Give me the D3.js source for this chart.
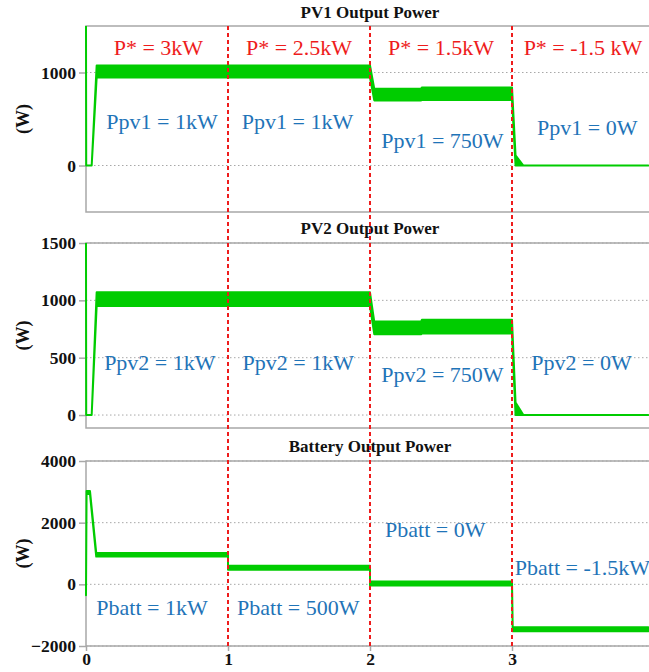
<!DOCTYPE html>
<html>
<head>
<meta charset="utf-8">
<script src="https://cdn.jsdelivr.net/npm/d3@7/dist/d3.min.js"></script>
<style>
  body { margin: 0; background: #fff; }
  svg text { font-family: "Liberation Serif", "Times New Roman", serif; }
</style>
</head>
<body>
<div id="chart"></div>
<script>
// thời gian chuyển bậc (s) và nhãn trục x
const xTicks = [0, 1, 2, 3];
const stepTimes = [1, 2, 3];

// PV1: dải dao động (biên trên / biên dưới), W
const pv1Time  = [0, 0.0015, 0.04, 0.075, 2.0, 2.03, 2.36, 2.365, 3.0, 3.025, 3.045, 3.08, 3.96];
const pv1Upper = [1500, 0, 0, 1075, 1075, 825, 825, 840, 840, 110, 70, 0, 0];
const pv1Lower = [1500, 0, 0, 945, 945, 700, 700, 705, 705, 0, 0, 0, 0];

// PV2
const pv2Time  = [0, 0.0015, 0.04, 0.075, 2.0, 2.03, 2.36, 2.365, 3.0, 3.025, 3.045, 3.08, 3.96];
const pv2Upper = [1500, 0, 0, 1070, 1070, 815, 815, 830, 830, 110, 70, 0, 0];
const pv2Lower = [1500, 0, 0, 950, 950, 705, 705, 710, 710, 0, 0, 0, 0];

// Battery
const battTime  = [0, 0.004, 0.016, 0.028, 0.072, 1.0, 1.0, 2.0, 2.0, 3.0, 3.005, 3.96];
const battUpper = [-350, 3030, 3030, 3030, 1020, 1020, 600, 600, 90, 90, -1390, -1390];
const battLower = [-350, 2930, 2930, 2930, 900, 900, 475, 475, -40, -40, -1520, -1520];

// nhãn P* (đỏ) và nhãn công suất (xanh): [t, W]
const setpointLabels = ["P* = 3kW", "P* = 2.5kW", "P* = 1.5kW", "P* = -1.5 kW"];
const setpointT = [0.51, 1.5, 2.5, 3.5];
const setpointW = [1185, 1185, 1185, 1185];

const pv1Labels = ["Ppv1 = 1kW", "Ppv1 = 1kW", "Ppv1 = 750W", "Ppv1 = 0W"];
const pv1LabelT = [0.535, 1.49, 2.51, 3.53];
const pv1LabelW = [390, 390, 184, 325];

const pv2Labels = ["Ppv2 = 1kW", "Ppv2 = 1kW", "Ppv2 = 750W", "Ppv2 = 0W"];
const pv2LabelT = [0.52, 1.495, 2.51, 3.49];
const pv2LabelW = [393, 393, 290, 393];

const battLabels = ["Pbatt = 1kW", "Pbatt = 500W", "Pbatt = 0W", "Pbatt =  -1.5kW"];
const battLabelT = [0.465, 1.495, 2.46, 3.02];
const battLabelW = [-990, -990, 1535, 300];

const titles = ["PV1 Output Power", "PV2 Output Power", "Battery Output Power"];
const yTicksPV1 = [0, 1000];
const yTicksPV2 = [0, 500, 1000, 1500];
const yTicksBatt = [-2000, 0, 2000, 4000];

const W = 649, H = 672;
const serif = '"Liberation Serif", "Times New Roman", serif';
const svg = d3.select("#chart").append("svg")
    .attr("width", W)
    .attr("height", H);

const green = "#00cc00";
const grid = "#a8a8a8";
const red = "#ee1c1c";
const blue = "#1f74b8";

const x = d3.scaleLinear().domain([0, 4]).range([86, 654]);

const panels = [
    { title: titles[0], y: d3.scaleLinear().domain([-500, 1500]).range([212, 26]), ticks: yTicksPV1,
      t: pv1Time, up: pv1Upper, lo: pv1Lower, lab: pv1Labels, lt: pv1LabelT, lw: pv1LabelW, titleY: 18 },
    { title: titles[1], y: d3.scaleLinear().domain([-113, 1500]).range([428, 243]), ticks: yTicksPV2,
      t: pv2Time, up: pv2Upper, lo: pv2Lower, lab: pv2Labels, lt: pv2LabelT, lw: pv2LabelW, titleY: 234 },
    { title: titles[2], y: d3.scaleLinear().domain([-2000, 4000]).range([646, 461]), ticks: yTicksBatt,
      t: battTime, up: battUpper, lo: battLower, lab: battLabels, lt: battLabelT, lw: battLabelW, titleY: 452 }
];

panels.forEach((p, i) => {
    const g = svg.append("g");
    const [y0, y1] = p.y.range();

    // lưới chấm
    g.selectAll("line.grid")
        .data(p.ticks)
        .enter().append("line")
        .attr("x1", x(0)).attr("x2", W)
        .attr("y1", d => p.y(d)).attr("y2", d => p.y(d))
        .attr("stroke", grid).attr("stroke-width", 1)
        .attr("stroke-dasharray", "1.5,2.5");

    // khung
    g.append("path")
        .attr("d", `M${W},${y1}H${x(0)}V${y0}H${W}`)
        .attr("fill", "none").attr("stroke", grid).attr("stroke-width", 1.5);

    // trục y
    const axis = d3.axisLeft(p.y).tickValues(p.ticks).tickFormat(d3.format("d")).tickSize(7).tickPadding(3);
    const ag = g.append("g").attr("transform", `translate(${x(0)},0)`).call(axis)
        .attr("font-family", serif);
    ag.select(".domain").remove();
    ag.selectAll(".tick line").attr("stroke", grid).attr("stroke-width", 1.5);
    ag.selectAll(".tick text")
        .attr("fill", "#111")
        .style("font-family", serif)
        .style("font-size", "17.5px")
        .style("font-weight", "bold");

    // nhãn (W)
    svg.append("text")
        .attr("transform", `translate(29,${(y0 + y1) / 2}) rotate(-90)`)
        .attr("text-anchor", "middle")
        .style("font-family", serif)
        .style("font-size", "18px")
        .style("font-weight", "bold")
        .attr("fill", "#111")
        .text("(W)");

    // tiêu đề
    svg.append("text")
        .attr("x", 370).attr("y", p.titleY)
        .attr("text-anchor", "middle")
        .style("font-family", serif)
        .style("font-size", "17px")
        .style("font-weight", "bold")
        .attr("fill", "#111")
        .text(p.title);

    // vùng cắt
    svg.append("clipPath").attr("id", "clip" + i)
        .append("rect")
        .attr("x", x(0) - 2).attr("y", y1)
        .attr("width", W).attr("height", y0 - y1);

    const rows = p.t.map((t, k) => ({ t: t, up: p.up[k], lo: p.lo[k] }));
    const area = d3.area()
        .x(d => x(d.t))
        .y0(d => p.y(d.lo))
        .y1(d => p.y(d.up));

    g.append("path")
        .datum(rows)
        .attr("clip-path", `url(#clip${i})`)
        .attr("d", area)
        .attr("fill", green)
        .attr("stroke", green)
        .attr("stroke-width", 2)
        .attr("stroke-linejoin", "round");
});

// trục x ở panel dưới
const bottom = panels[2];
const xa = svg.append("g")
    .attr("transform", `translate(0,${bottom.y.range()[0]})`)
    .call(d3.axisBottom(x).tickValues(xTicks).tickFormat(d3.format("d")).tickSize(5).tickPadding(2))
    .attr("font-family", serif);
xa.select(".domain").remove();
xa.selectAll(".tick line").attr("stroke", grid).attr("stroke-width", 1.5);
xa.selectAll(".tick text")
    .attr("fill", "#111")
    .style("font-family", serif)
    .style("font-size", "17.5px")
    .style("font-weight", "bold");

// đường đỏ đứt nét
svg.selectAll("line.step")
    .data(stepTimes)
    .enter().append("line")
    .attr("x1", d => x(d)).attr("x2", d => x(d))
    .attr("y1", 26).attr("y2", 647)
    .attr("stroke", red)
    .attr("stroke-width", 2)
    .attr("stroke-dasharray", "4,3");

// nhãn P*
svg.selectAll("text.sp")
    .data(setpointLabels)
    .enter().append("text")
    .attr("x", (d, k) => x(setpointT[k]))
    .attr("y", (d, k) => panels[0].y(setpointW[k]))
    .attr("text-anchor", "middle")
    .style("font-family", serif)
    .style("font-size", "22px")
    .attr("fill", red)
    .text(d => d);

// nhãn công suất
panels.forEach(p => {
    svg.append("g").selectAll("text")
        .data(p.lab)
        .enter().append("text")
        .attr("x", (d, k) => x(p.lt[k]))
        .attr("y", (d, k) => p.y(p.lw[k]))
        .attr("text-anchor", (d, k) => p === bottom && k === 3 ? "start" : "middle")
        .style("font-family", serif)
        .style("font-size", "22px")
        .attr("fill", blue)
        .text(d => d);
});
</script>
</body>
</html>
